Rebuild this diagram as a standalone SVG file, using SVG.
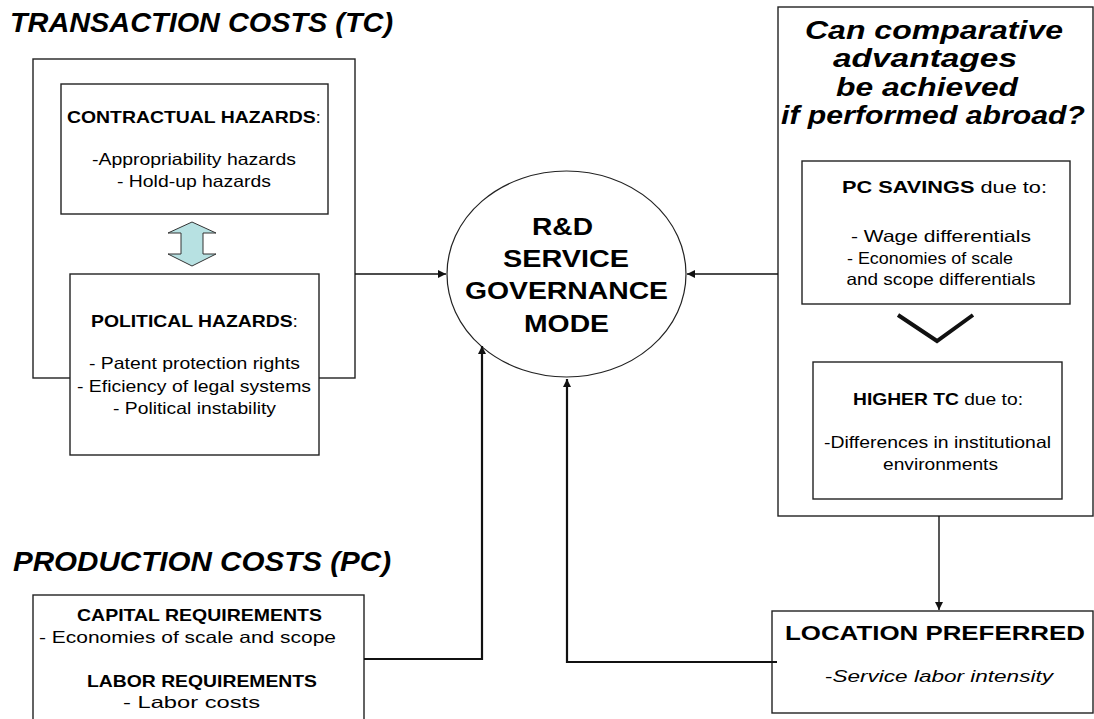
<svg xmlns="http://www.w3.org/2000/svg" width="1094" height="719" viewBox="0 0 1094 719">
  <style>
    text { font-family: "Liberation Sans", Arial, sans-serif; fill: #000; }
    .title { font-size: 28px; font-weight: bold; font-style: italic; }
    .ask { font-size: 26px; font-weight: bold; font-style: italic; text-anchor: middle; }
    .hd { font-size: 16.5px; font-weight: bold; text-anchor: middle; }
    .tx { font-size: 16.5px; text-anchor: middle; }
    .core { font-size: 24.5px; font-weight: bold; text-anchor: middle; }
    .loc { font-size: 21px; font-weight: bold; text-anchor: middle; }
    .b { font-weight: bold; }
    .n { font-weight: normal; }
    .box { fill: #fff; stroke: #222; stroke-width: 1.4; }
    .wire { fill: none; stroke: #111; }
    .thick { stroke-width: 2.2; }
    .thin { stroke-width: 1.4; }
  </style>
  <defs>
    <marker id="tip" markerUnits="userSpaceOnUse" markerWidth="9" markerHeight="8" refX="8" refY="4" orient="auto">
      <path d="M0,0 L8,4 L0,8 z" fill="#111"/>
    </marker>
  </defs>

  <rect width="1094" height="719" fill="#fff"/>

  <!-- section headings -->
  <text class="title" x="10" y="32" textLength="383" lengthAdjust="spacingAndGlyphs">TRANSACTION COSTS (TC)</text>
  <text class="title" x="13" y="571" textLength="378" lengthAdjust="spacingAndGlyphs">PRODUCTION COSTS (PC)</text>

  <!-- transaction costs block -->
  <g id="tc-block">
    <rect class="box" x="33" y="59" width="322" height="319"/>
  </g>

  <g id="contractual-hazards">
    <rect class="box" x="61" y="84" width="267" height="130"/>
    <text class="hd" x="194" y="123" textLength="254" lengthAdjust="spacingAndGlyphs">CONTRACTUAL HAZARDS<tspan class="n">:</tspan></text>
    <text class="tx" x="194" y="165" textLength="204" lengthAdjust="spacingAndGlyphs">-Appropriability hazards</text>
    <text class="tx" x="194" y="187" textLength="154" lengthAdjust="spacingAndGlyphs">- Hold-up hazards</text>
  </g>

  <g id="hazard-link">
    <polygon points="192,222 216,233 203,233 203,254 216,254 192,266 168,254 181,254 181,233 168,233" fill="#b7e1e2" stroke="#333" stroke-width="1"/>
  </g>

  <g id="political-hazards">
    <rect class="box" x="70" y="274" width="249" height="181"/>
    <text class="hd" x="194.5" y="327" textLength="207" lengthAdjust="spacingAndGlyphs">POLITICAL HAZARDS<tspan class="n">:</tspan></text>
    <text class="tx" x="194.5" y="369" textLength="211" lengthAdjust="spacingAndGlyphs">- Patent protection rights</text>
    <text class="tx" x="194" y="392" textLength="234" lengthAdjust="spacingAndGlyphs">- Eficiency of legal systems</text>
    <text class="tx" x="194.5" y="414" textLength="163" lengthAdjust="spacingAndGlyphs">- Political instability</text>
  </g>

  <!-- production costs block -->
  <g id="pc-block">
    <rect class="box" x="33" y="595" width="331" height="140"/>
    <text class="hd" x="199.5" y="621" textLength="245" lengthAdjust="spacingAndGlyphs">CAPITAL REQUIREMENTS</text>
    <text class="tx" x="187.5" y="643" textLength="297" lengthAdjust="spacingAndGlyphs">- Economies of scale and scope</text>
    <text class="hd" x="202" y="687" textLength="230" lengthAdjust="spacingAndGlyphs">LABOR REQUIREMENTS</text>
    <text class="tx" x="191.5" y="708" textLength="137" lengthAdjust="spacingAndGlyphs">- Labor costs</text>
  </g>

  <!-- central governance node -->
  <g id="governance-mode">
    <ellipse cx="566.5" cy="274" rx="119.5" ry="103" fill="#fff" stroke="#222" stroke-width="1.2"/>
    <text class="core" x="562.5" y="235" textLength="61" lengthAdjust="spacingAndGlyphs">R&amp;D</text>
    <text class="core" x="566" y="267" textLength="126" lengthAdjust="spacingAndGlyphs">SERVICE</text>
    <text class="core" x="566.5" y="299" textLength="203" lengthAdjust="spacingAndGlyphs">GOVERNANCE</text>
    <text class="core" x="566.5" y="332" textLength="85" lengthAdjust="spacingAndGlyphs">MODE</text>
  </g>

  <!-- comparative advantage block -->
  <g id="abroad-block">
    <rect class="box" x="778" y="7" width="315" height="509"/>
    <text class="ask" x="934" y="39" textLength="258" lengthAdjust="spacingAndGlyphs">Can comparative</text>
    <text class="ask" x="925" y="67" textLength="184" lengthAdjust="spacingAndGlyphs">advantages</text>
    <text class="ask" x="927" y="96" textLength="182" lengthAdjust="spacingAndGlyphs">be achieved</text>
    <text class="ask" x="933" y="124" textLength="304" lengthAdjust="spacingAndGlyphs">if performed abroad?</text>
  </g>

  <g id="pc-savings">
    <rect class="box" x="802" y="161" width="268" height="143"/>
    <text class="tx" x="944.5" y="193" textLength="205" lengthAdjust="spacingAndGlyphs"><tspan class="b">PC SAVINGS</tspan> due to:</text>
    <text class="tx" x="941" y="242" textLength="180" lengthAdjust="spacingAndGlyphs">- Wage differentials</text>
    <text class="tx" x="930" y="264" textLength="166" lengthAdjust="spacingAndGlyphs">- Economies of scale</text>
    <text class="tx" x="941" y="285" textLength="189" lengthAdjust="spacingAndGlyphs">and scope differentials</text>
  </g>

  <g id="trade-off">
    <polyline points="898,315 937,341 973,315" fill="none" stroke="#111" stroke-width="4"/>
  </g>

  <g id="higher-tc">
    <rect class="box" x="813" y="362" width="249" height="137"/>
    <text class="tx" x="938" y="405" textLength="170" lengthAdjust="spacingAndGlyphs"><tspan class="b">HIGHER TC</tspan> due to:</text>
    <text class="tx" x="937.5" y="448" textLength="227" lengthAdjust="spacingAndGlyphs">-Differences in institutional</text>
    <text class="tx" x="940.5" y="470" textLength="115" lengthAdjust="spacingAndGlyphs">environments</text>
  </g>

  <g id="location-preferred">
    <rect class="box" x="772" y="611" width="321" height="102"/>
    <text class="loc" x="935" y="640" textLength="300" lengthAdjust="spacingAndGlyphs">LOCATION PREFERRED</text>
    <text class="tx" x="939" y="682" textLength="228" lengthAdjust="spacingAndGlyphs">-<tspan font-style="italic">Service labor intensity</tspan></text>
  </g>

  <!-- connectors -->
  <g id="connectors">
    <path class="wire thin" d="M355,274 H446" marker-end="url(#tip)"/>
    <path class="wire thin" d="M778,274 H687" marker-end="url(#tip)"/>
    <path class="wire thick" d="M364,659 H482 V346" marker-end="url(#tip)"/>
    <path class="wire thick" d="M777,662 H567 V379" marker-end="url(#tip)"/>
    <path class="wire thin" d="M939,516 V610" marker-end="url(#tip)"/>
  </g>
</svg>
